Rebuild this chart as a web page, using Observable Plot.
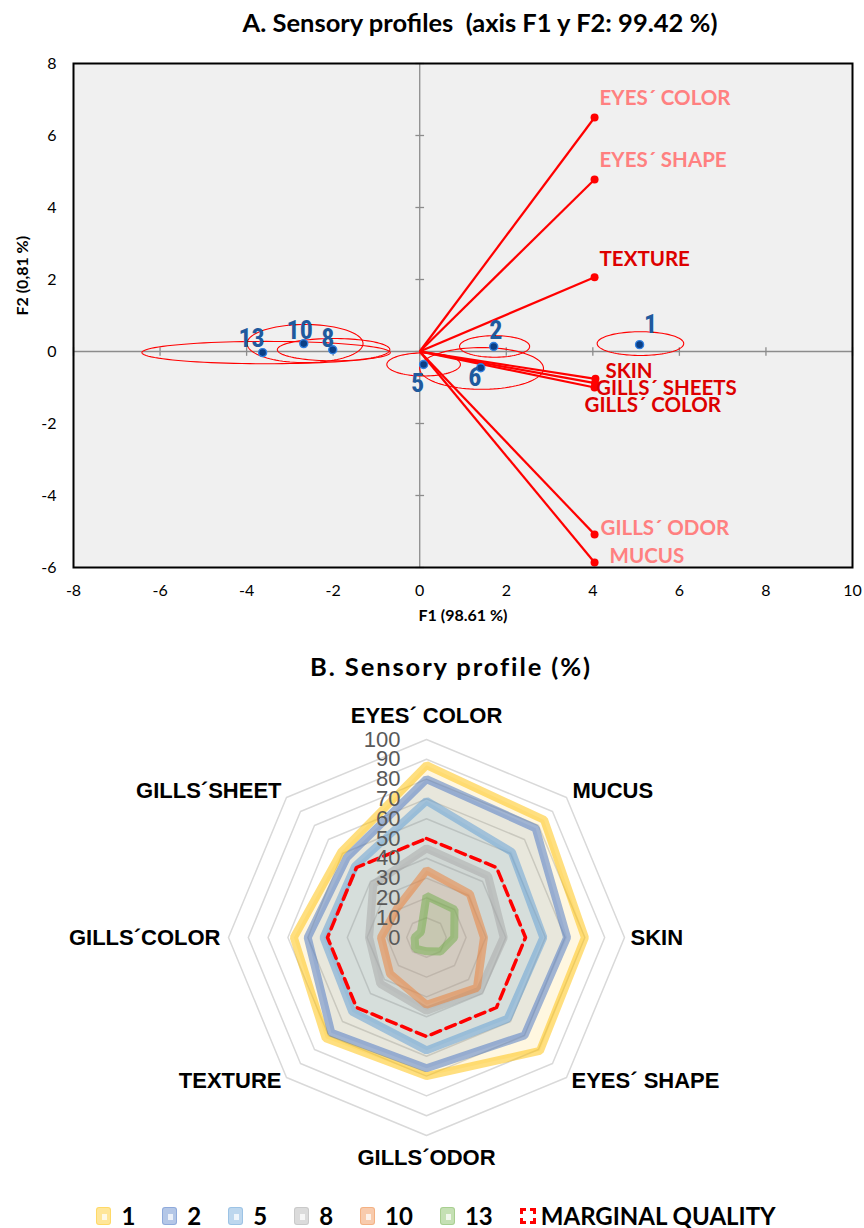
<!DOCTYPE html>
<html>
<head>
<meta charset="utf-8">
<script src="https://cdn.jsdelivr.net/npm/d3@7"></script>
<script src="https://cdn.jsdelivr.net/npm/@observablehq/plot@0.6"></script>
<style>
  html, body { margin: 0; padding: 0; background: #fff; }
  body { position: relative; width: 864px; height: 1228px; overflow: hidden; font-family: Lato, "Open Sans", sans-serif; }
  .abs { position: absolute; }
  .title { position: absolute; transform: translate(-50%, -50%); font-weight: 700; white-space: pre; color: #000; }
  #titleA { left: 480px; top: 22px; font-size: 25.5px; }
  #titleB { left: 451px; top: 666px; font-size: 25.5px; letter-spacing: 1.9px; }
  #chartA { left: 0; top: 0; }
  #chartB { left: 0; top: 640px; }
  #legend { left: 0; width: 864px; top: 1203px; display: flex; justify-content: center; gap: 27px; padding-left: 8px; box-sizing: border-box; }
  .item { display: flex; align-items: center; gap: 10px; font-weight: 700; font-size: 24px; line-height: 26px; }
  .sw { width: 15px; height: 18px; border-radius: 3px; position: relative; box-sizing: border-box; }
  .sw::after { content: ""; position: absolute; left: 5px; top: 6px; width: 5px; height: 6px; background: rgba(255,255,255,0.75); }
  .sw.dash { width: 16px; height: 16px; border: 3px dashed #ff0000; border-radius: 0; background: #fff; }
  .sw.dash::after { display: none; }
</style>
</head>
<body>
<div id="titleA" class="title">A. Sensory profiles  (axis F1 y F2: 99.42 %)</div>
<div id="chartA" class="abs"></div>
<div id="titleB" class="title">B. Sensory profile (%)</div>
<div id="chartB" class="abs"></div>
<div id="legend" class="abs"></div>
<script>
// ---------- A. PCA biplot (F1 x F2) ----------
const varNames = ["EYES´ COLOR", "EYES´ SHAPE", "TEXTURE", "SKIN", "GILLS´ SHEETS", "GILLS´ COLOR", "GILLS´ ODOR", "MUCUS"];
const varF1 = [4.04, 4.04, 4.04, 4.06, 4.05, 4.04, 4.04, 4.04];
const varF2 = [6.5, 4.78, 2.06, -0.76, -0.88, -1.0, -5.08, -5.86];

const obsNames = ["1", "2", "5", "6", "8", "10", "13"];
const obsF1 = [5.08, 1.71, 0.09, 1.41, -2.01, -2.68, -3.63];
const obsF2 = [0.19, 0.14, -0.36, -0.45, 0.05, 0.22, -0.03];

// confidence ellipses around each observation: centre and semi-axes
const ellCx = [5.1, 1.73, 0.09, 1.43, -1.99, -2.65, -3.55];
const ellCy = [0.22, 0.14, -0.36, -0.47, 0.05, 0.22, -0.03];
const ellRx = [1.0, 0.81, 0.85, 1.43, 1.3, 1.34, 2.87];
const ellRy = [0.33, 0.3, 0.32, 0.58, 0.31, 0.53, 0.31];

const f1Ticks = [-8, -6, -4, -2, 0, 2, 4, 6, 8, 10];
const f2Ticks = [-6, -4, -2, 0, 2, 4, 6, 8];

// ---------- B. Radar profile ----------
const attributes = ["EYES´ COLOR", "MUCUS", "SKIN", "EYES´ SHAPE", "GILLS´ODOR", "TEXTURE", "GILLS´COLOR", "GILLS´SHEET"];
const seriesNames = ["1", "2", "5", "8", "10", "13"];
const s1 = [87, 84, 80, 81, 70, 72, 67, 61];
const s2 = [80, 78, 71, 70, 66, 68, 60, 57];
const s5 = [69, 61, 59, 58, 57, 53, 52, 51];
const s8 = [45, 44, 39, 38, 37, 33, 29, 38];
const s10 = [34, 31, 29, 36, 34, 26, 23, 21];
const s13 = [21, 20, 14, 10, 7, 8, 6, 4];
const marginal = [50, 50, 50, 50, 50, 50, 50, 50];
const radarTicks = [0, 10, 20, 30, 40, 50, 60, 70, 80, 90, 100];

// ---------- build panel A ----------
const vars = varNames.map((name, i) => ({name, x: varF1[i], y: varF2[i]}));
const obs = obsNames.map((name, i) => ({name, x: obsF1[i], y: obsF2[i]}));
const ellipsePts = [];
ellCx.forEach((cx, k) => {
  for (let j = 0; j <= 96; j++) {
    const t = (j / 96) * 2 * Math.PI;
    ellipsePts.push({k, x: cx + ellRx[k] * Math.cos(t), y: ellCy[k] + ellRy[k] * Math.sin(t)});
  }
});

const pink = "#ff8080", darkRed = "#dd0000";
const varStyle = {
  "EYES´ COLOR":   {c: pink,    dx: 5,   dy: -19},
  "EYES´ SHAPE":   {c: pink,    dx: 5,   dy: -19},
  "TEXTURE":       {c: darkRed, dx: 5,   dy: -18},
  "SKIN":          {c: darkRed, dx: 10,  dy: -7},
  "GILLS´ SHEETS": {c: darkRed, dx: 1,   dy: 5},
  "GILLS´ COLOR":  {c: darkRed, dx: -10, dy: 18},
  "GILLS´ ODOR":   {c: pink,    dx: 6,   dy: -6},
  "MUCUS":         {c: pink,    dx: 15,  dy: -6}
};
const obsOffset = {
  "1": [11, -20], "2": [2, -16], "5": [-6, 19], "6": [-6, 10],
  "8": [-5, -11], "10": [-4, -13], "13": [-11, -14]
};

const axisGray = "#8c8c8c";
const chartA = Plot.plot({
  width: 864, height: 640,
  marginTop: 63, marginLeft: 73, marginRight: 12, marginBottom: 73,
  x: {domain: [-8, 10]},
  y: {domain: [-6, 8]},
  style: {fontFamily: "Lato, 'Open Sans', sans-serif", fontSize: "16px", background: "transparent", overflow: "visible", color: "#000"},
  marks: [
    Plot.frame({fill: "#f0f0f0"}),
    Plot.ruleX([0], {stroke: axisGray, strokeWidth: 1.3}),
    Plot.ruleY([0], {stroke: axisGray, strokeWidth: 1.3}),
    Plot.link(f1Ticks, {x1: d => d, x2: d => d, y1: -0.12, y2: 0.12, stroke: axisGray, strokeWidth: 1.3}),
    Plot.link(f2Ticks, {x1: -0.1, x2: 0.1, y1: d => d, y2: d => d, stroke: axisGray, strokeWidth: 1.3}),
    Plot.line(ellipsePts, {x: "x", y: "y", z: "k", stroke: "#ff0000", strokeWidth: 1.1}),
    Plot.link(vars, {x1: 0, y1: 0, x2: "x", y2: "y", stroke: "#ff0000", strokeWidth: 2.2}),
    Plot.dot(vars, {x: "x", y: "y", r: 4, fill: "#ff0000", stroke: "none"}),
    ...vars.map(v => Plot.text([v], {
      x: "x", y: "y", text: "name", textAnchor: "start",
      dx: varStyle[v.name].dx, dy: varStyle[v.name].dy,
      fill: varStyle[v.name].c, fontWeight: 700, fontSize: 20.5
    })),
    Plot.dot(obs, {x: "x", y: "y", r: 4, fill: "#0b3f86", stroke: "#2f7fe0", strokeWidth: 1.4}),
    ...obs.map(o => Plot.text([o], {
      x: "x", y: "y", text: "name",
      dx: obsOffset[o.name][0], dy: obsOffset[o.name][1],
      fill: "#1f5a9e", fontWeight: 700, fontSize: 26,
      fontFamily: "'Liberation Sans Narrow', 'Arial Narrow', 'Roboto Condensed', sans-serif"
    })),
    Plot.frame({stroke: "#000", strokeWidth: 2}),
    Plot.axisX(f1Ticks, {tickSize: 0, tickPadding: 17, label: null, tickFormat: d => String(d)}),
    Plot.axisY(f2Ticks, {tickSize: 0, tickPadding: 17, label: null, tickFormat: d => String(d)}),
    Plot.text(["F1 (98.61 %)"], {frameAnchor: "bottom", dy: 53, text: d => d, fontWeight: 700, fontSize: 16}),
    Plot.text(["F2 (0,81 %)"], {frameAnchor: "left", dx: -51, rotate: -90, text: d => d, fontWeight: 700, fontSize: 16})
  ]
});
document.getElementById("chartA").append(chartA);

// ---------- build panel B ----------
const seriesValues = [s1, s2, s5, s8, s10, s13];
const seriesColor = ["#ffc000", "#4472c4", "#5b9bd5", "#a5a5a5", "#ed7d31", "#70ad47"];
const angle = i => (i / attributes.length) * 2 * Math.PI;
const px = (v, i) => v * Math.sin(angle(i));
const py = (v, i) => v * Math.cos(angle(i));

const rings = [];
radarTicks.filter(r => r > 0).forEach(r => attributes.forEach((a, i) => rings.push({r, x: px(r, i), y: py(r, i)})));

const seriesPts = seriesValues.map(vals => vals.map((v, i) => ({x: px(v, i), y: py(v, i)})));
const marginalPts = marginal.map((v, i) => ({x: px(v, i), y: py(v, i)}));

const labelLayout = [
  {anchor: "middle", dx: 0,  dy: -24},
  {anchor: "start",  dx: 6,  dy: -7},
  {anchor: "start",  dx: 6,  dy: 0},
  {anchor: "start",  dx: 5,  dy: 3},
  {anchor: "middle", dx: 0,  dy: 22},
  {anchor: "end",    dx: -5, dy: 3},
  {anchor: "end",    dx: -8, dy: 0},
  {anchor: "end",    dx: -5, dy: -7}
];

const chartB = Plot.plot({
  width: 864, height: 550,
  margin: 0,
  x: {domain: [-100, 100], range: [228, 624]},
  y: {domain: [-100, 100], range: [495, 99]},
  axis: null,
  style: {fontFamily: "'Liberation Sans', Arial, sans-serif", background: "transparent", overflow: "visible"},
  marks: [
    Plot.line(rings, {x: "x", y: "y", z: "r", curve: "linear-closed", stroke: "#d9d9d9", strokeWidth: 1.5}),
    ...seriesPts.map((pts, k) => Plot.line(pts, {
      x: "x", y: "y", curve: "linear-closed",
      fill: seriesColor[k], fillOpacity: 0.12,
      stroke: seriesColor[k], strokeOpacity: 0.5, strokeWidth: 8, strokeLinejoin: "miter"
    })),
    Plot.line(marginalPts, {x: "x", y: "y", curve: "linear-closed", stroke: "#ff0000", strokeWidth: 3.5, strokeDasharray: "10,6"}),
    Plot.text(radarTicks, {x: 0, y: d => d, text: d => String(d), dx: -26, textAnchor: "end", fill: "#595959", fontSize: 22}),
    ...attributes.map((a, i) => Plot.text([a], {
      x: px(100, i), y: py(100, i), text: d => d,
      textAnchor: labelLayout[i].anchor, dx: labelLayout[i].dx, dy: labelLayout[i].dy,
      fontWeight: 700, fontSize: 22, fill: "#000"
    }))
  ]
});
document.getElementById("chartB").append(chartB);

// ---------- legend ----------
const legendFill = ["#ffe699", "#b4c7e7", "#bdd7ee", "#dbdbdb", "#f8cbad", "#c5e0b4"];
const legend = document.getElementById("legend");
seriesNames.forEach((name, k) => {
  const item = document.createElement("div");
  item.className = "item";
  const sw = document.createElement("span");
  sw.className = "sw";
  sw.style.background = legendFill[k];
  sw.style.border = "1px solid " + seriesColor[k] + "55";
  item.append(sw, document.createTextNode(name));
  legend.append(item);
});
const mq = document.createElement("div");
mq.className = "item";
mq.style.gap = "5px";
const msw = document.createElement("span");
msw.className = "sw dash";
mq.append(msw, document.createTextNode("MARGINAL QUALITY"));
legend.append(mq);
</script>
</body>
</html>
